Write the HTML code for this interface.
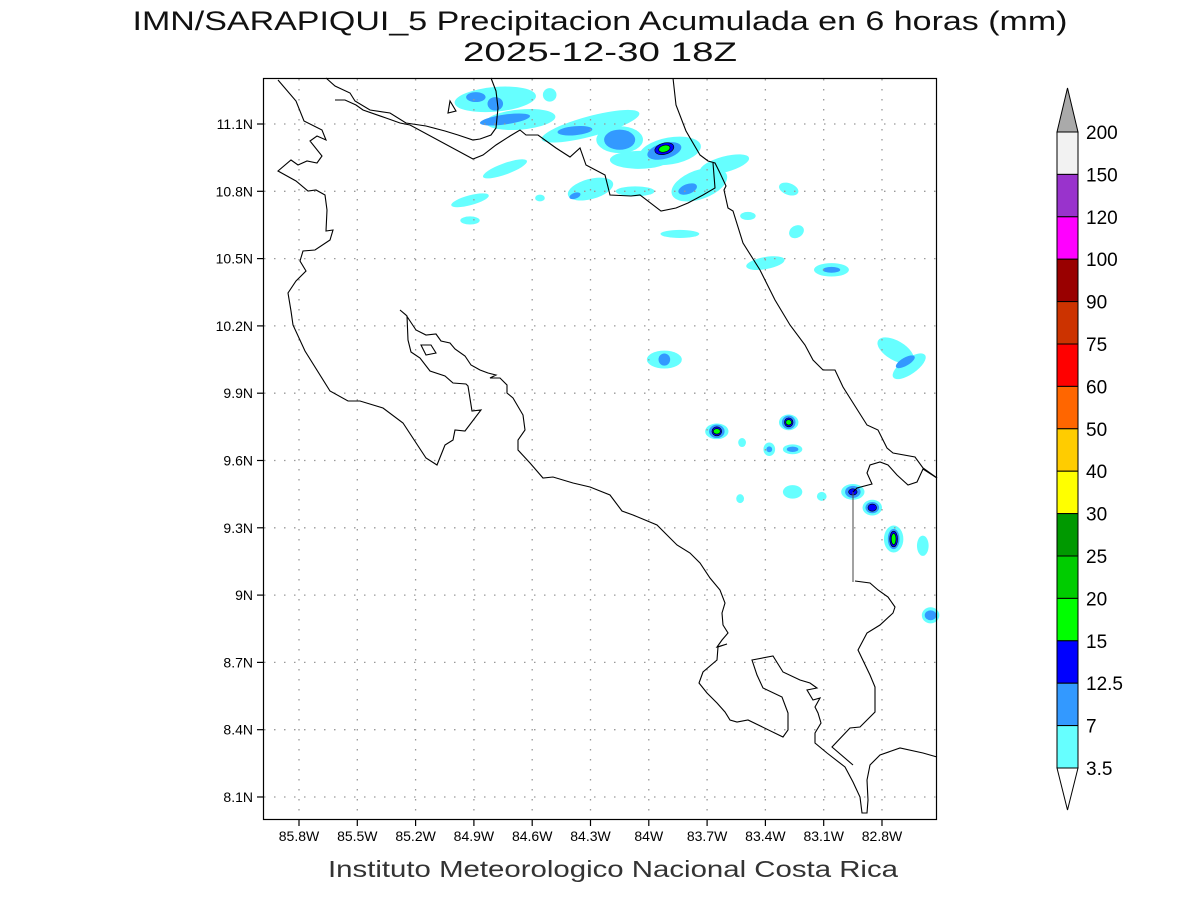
<!DOCTYPE html>
<html><head><meta charset="utf-8">
<style>
html,body{margin:0;padding:0;background:#fff;}
svg{display:block;font-family:"Liberation Sans",sans-serif;}
</style></head>
<body>
<svg id="chart" width="1200" height="900" viewBox="0 0 1200 900" xmlns="http://www.w3.org/2000/svg">
<text x="600" y="30" text-anchor="middle" font-size="27" fill="#111" textLength="935" lengthAdjust="spacingAndGlyphs">IMN/SARAPIQUI_5 Precipitacion Acumulada en 6 horas (mm)</text>
<text x="600" y="61" text-anchor="middle" font-size="27" fill="#111" textLength="274" lengthAdjust="spacingAndGlyphs">2025-12-30 18Z</text>
<g id="blobs"></g>
<g id="grid"></g>
<g id="coast" fill="none" stroke="#000" stroke-width="1.1">
<polyline points="278,80 296,101 304,121 322,130 326,140 317,136 310,141 322,156 317,163 307,161 298,165 291,160 278,171 296,181 308,191 316,190 325,195 327,210 326,231 333,230 330,240 315,250 303,251 300,261 306,271 296,281 288,293 291,311 293,325 305,351 330,391 348,401 360,401 383,408 403,423 426,458 437,465 445,445 453,440 455,430 465,431 481,410 472,411 468,386 466,384 453,383 445,376 430,371 420,358 411,352 408,340 407,316 400,310 406,315 416,330 426,335 436,334 441,341 450,343 455,349 465,356 471,365 480,370 488,373 496,375 490,378 500,378 507,385 507,393 513,398 523,415 525,430 518,440 518,450 530,463 543,478 553,477 573,483 590,487 610,495 622,511 633,515 657,525 667,535 677,545 690,553 700,563 710,578 720,590 725,603 722,613 723,625 728,633 722,640 717,647 727,644 718,647 717,660 703,672 699,683 707,693 717,703 725,712 730,720 737,722 748,720 783,737 788,730 788,713 782,697 763,688 757,675 752,660 773,656 783,672 800,680 810,683 817,688 807,690 813,700 820,698 815,707 818,713 821,723 815,733 815,743 827,753 845,767 853,782 860,797 862,813 867,813 868,800 867,780 870,765 880,755 900,748 923,753 937,757"/>
<polyline points="853,765 832,747 850,728 860,727 875,712 875,687 870,675 858,650 867,633 880,625 893,613 895,607 888,597 878,590 870,583 855,581"/>
<polyline stroke="#555" points="853,582 853,492"/>
<polyline points="853,492 857,488 872,484 867,473 870,465 880,462 888,465 897,475 908,485 917,482 923,469 937,478"/>
<polyline points="673,78 676,105 686,131 700,155 708,161 715,163 720,173 726,186 724,190 728,208 733,211 743,243 760,270 775,300 790,325 805,345 813,360 823,370 835,370 843,387 867,425 878,430 887,448 893,453 915,457 923,468 937,478"/>
<polyline points="326,78 335,86 350,93 355,101 370,110 390,113 406,123 426,126 445,131 458,135 473,140 480,139 491,135 496,128 498,108 496,91 491,78"/>
<polyline points="335,100 345,100 356,105 363,110 386,118 400,123 410,125 473,159 483,155 496,145 510,136 520,130 526,135 538,135 556,148 570,157 580,148 586,165 605,175 610,195 631,196 640,195 661,211 676,208 688,203 703,195 715,188 713,163"/>
<polygon points="448,113 450,101 456,111"/>
<polygon points="421,345 431,345 436,353 426,355"/>
</g>
<rect x="263.5" y="78.5" width="673" height="741" fill="none" stroke="#000" stroke-width="1.2"/>
<g id="axes" font-size="14" fill="#000"></g>
<g id="cbar"></g>
<text x="613" y="877" text-anchor="middle" font-size="23" fill="#333" textLength="570" lengthAdjust="spacingAndGlyphs">Instituto Meteorologico Nacional Costa Rica</text>
</svg>
<script>
// axis ticks
const lonTicks = [85.8,85.5,85.2,84.9,84.6,84.3,84.0,83.7,83.4,83.1,82.8];
const lonLabels = ["85.8W","85.5W","85.2W","84.9W","84.6W","84.3W","84W","83.7W","83.4W","83.1W","82.8W"];
const latTicks = [11.1,10.8,10.5,10.2,9.9,9.6,9.3,9.0,8.7,8.4,8.1];
const latLabels = ["11.1N","10.8N","10.5N","10.2N","9.9N","9.6N","9.3N","9N","8.7N","8.4N","8.1N"];
// precipitation features: lon (deg W), lat, x-radius (deg), y-radius (deg), level, rotation
const blobLon = [84.79,84.66,84.51,84.30,83.89,83.61,83.74,84.74,84.30,84.07,84.92,84.92,84.56,83.84,83.49,83.28,83.24,83.40,83.06,83.92,83.65,83.28,83.52,83.38,83.26,83.26,83.53,83.11,82.95,82.85,82.74,82.59,82.55,82.73,82.66,84.05,84.15,
 84.89,84.79,84.74,84.15,84.38,83.92,83.80,84.38,83.06,83.92,82.68,83.65,83.28,83.38,83.26,82.95,82.85,82.74,82.55,
 83.92,83.65,83.28,82.95,82.85,82.74,
 83.92,83.65,83.28,82.74];
const blobLat = [11.21,11.12,11.23,11.09,10.98,10.92,10.83,10.90,10.81,10.80,10.76,10.67,10.77,10.61,10.69,10.81,10.62,10.48,10.45,10.05,9.73,9.77,9.68,9.65,9.65,9.46,9.43,9.44,9.46,9.39,9.25,9.22,8.91,10.09,10.02,10.94,11.03,
 11.22,11.19,11.12,11.03,11.07,10.98,10.81,10.78,10.45,10.05,10.04,9.73,9.77,9.65,9.65,9.46,9.39,9.25,8.91,
 10.99,9.73,9.77,9.46,9.39,9.25,
 10.99,9.73,9.77,9.25];
const blobRx = [0.21,0.18,0.035,0.26,0.16,0.13,0.15,0.12,0.12,0.1,0.1,0.05,0.025,0.1,0.04,0.03,0.04,0.1,0.09,0.09,0.06,0.05,0.02,0.03,0.05,0.05,0.02,0.025,0.06,0.05,0.05,0.03,0.045,0.05,0.1,0.15,0.12,
 0.05,0.04,0.13,0.08,0.09,0.09,0.05,0.03,0.045,0.03,0.055,0.04,0.035,0.015,0.03,0.04,0.035,0.03,0.03,
 0.05,0.025,0.022,0.022,0.022,0.02,
 0.03,0.018,0.015,0.012];
const blobRy = [0.055,0.045,0.03,0.045,0.06,0.035,0.065,0.025,0.045,0.022,0.022,0.018,0.015,0.018,0.018,0.045,0.027,0.027,0.03,0.04,0.035,0.035,0.02,0.03,0.022,0.03,0.02,0.02,0.035,0.035,0.06,0.045,0.036,0.09,0.035,0.04,0.06,
 0.022,0.03,0.022,0.045,0.02,0.035,0.022,0.013,0.013,0.027,0.018,0.03,0.03,0.013,0.012,0.027,0.025,0.045,0.022,
 0.025,0.02,0.02,0.014,0.016,0.035,
 0.015,0.012,0.012,0.025];
const blobLevel = [1,1,1,1,1,1,1,1,1,1,1,1,1,1,1,1,1,1,1,1,1,1,1,1,1,1,1,1,1,1,1,1,1,1,1,1,1,
 2,2,2,2,2,2,2,2,2,2,2,2,2,2,2,2,2,2,2,
 3,3,3,3,3,3,
 4,4,4,4];
const blobRot = [-5,-5,0,-15,-10,-15,-20,-20,-15,0,-15,0,0,0,0,-70,-30,-10,0,0,0,0,0,0,0,0,0,0,0,0,0,0,0,-60,-35,0,0,
 0,0,-8,0,-5,-15,-20,-20,0,0,-30,0,0,0,0,0,0,0,0,
 -15,0,0,0,0,0,
 -15,0,0,0];
// colorbar
const cbLabels = ["200","150","120","100","90","75","60","50","40","30","25","20","15","12.5","7","3.5"];
const cbColors = ["#f2f2f2","#9933cc","#ff00ff","#990000","#cc3300","#ff0000","#ff6600","#ffcc00","#ffff00","#009900","#00cc00","#00ff00","#0000ff","#3399ff","#66ffff"];
const levelColors = ["#66ffff","#3399ff","#0000ff","#00ff00"];

const NS="http://www.w3.org/2000/svg";
const X = lon => 299 + (85.8 - lon) * 194.33;
const Y = lat => 124 + (11.1 - lat) * 224.33;
function mk(tag, attrs, parent){const e=document.createElementNS(NS,tag);for(const k in attrs)e.setAttribute(k,attrs[k]);parent.appendChild(e);return e;}

const gb=document.getElementById('blobs');
for(let i=0;i<blobLon.length;i++){
  const cx=X(blobLon[i]), cy=Y(blobLat[i]);
  const e=mk('ellipse',{cx:cx,cy:cy,rx:blobRx[i]*194.33,ry:blobRy[i]*224.33,fill:levelColors[blobLevel[i]-1],transform:`rotate(${blobRot[i]} ${cx} ${cy})`},gb);
  if(blobLevel[i]>=3){e.setAttribute('stroke','#000');e.setAttribute('stroke-width','0.6');}
  
  
}

const gg=document.getElementById('grid'), ga=document.getElementById('axes');
lonTicks.forEach((v,i)=>{
  const x=X(v);
  const l=mk('line',{x1:x,y1:79,x2:x,y2:819,stroke:'#999','stroke-width':1.3,'stroke-dasharray':'1.5 8.5'},gg);
  
  
  const t=mk('line',{x1:x,y1:820,x2:x,y2:826,stroke:'#000','stroke-width':1.2},ga);
  
  
  const tx=mk('text',{x:x,y:841,'text-anchor':'middle'},ga);tx.textContent=lonLabels[i];
  
  
});
latTicks.forEach((v,i)=>{
  const y=Y(v);
  const l=mk('line',{x1:264,y1:y,x2:936,y2:y,stroke:'#999','stroke-width':1.3,'stroke-dasharray':'1.5 8.5'},gg);
  
  
  const t=mk('line',{x1:257,y1:y,x2:263,y2:y,stroke:'#000','stroke-width':1.2},ga);
  
  
  const tx=mk('text',{x:253,y:y+5,'text-anchor':'end'},ga);tx.textContent=latLabels[i];
  
  
});

const gc=document.getElementById('cbar');
const cbTop=132, cbBot=768, cbX=1057, cbW=21, step=(cbBot-cbTop)/cbColors.length;
const up=mk('polygon',{points:`${cbX},${cbTop} ${cbX+cbW/2},88 ${cbX+cbW},${cbTop}`,fill:'#aaaaaa',stroke:'#000','stroke-width':1},gc);


cbColors.forEach((c,i)=>{
  const r=mk('rect',{x:cbX,y:cbTop+i*step,width:cbW,height:step,fill:c,stroke:'#000','stroke-width':1},gc);
  
  
});
const dn=mk('polygon',{points:`${cbX},${cbBot} ${cbX+cbW/2},810 ${cbX+cbW},${cbBot}`,fill:'#fff',stroke:'#000','stroke-width':1},gc);


cbLabels.forEach((s,i)=>{
  const t=mk('text',{x:1086,y:cbTop+i*step+7,'font-size':19,fill:'#000'},gc);t.textContent=s;
  
  
});
</script>
</body></html>
